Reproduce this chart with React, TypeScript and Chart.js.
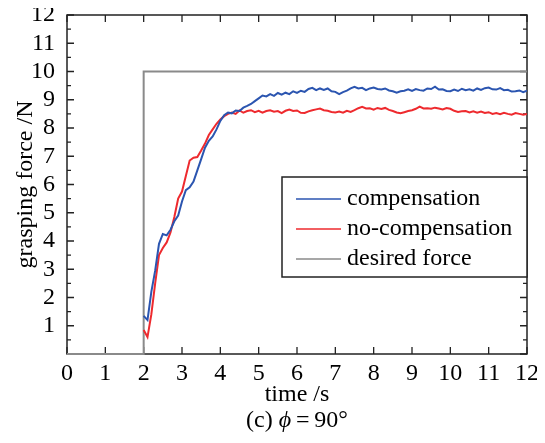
import React, { useEffect, useRef } from "react";
import { Chart, registerables } from "chart.js";

Chart.register(...registerables);

const xTickLabels = ["0","1","2","3","4","5","6","7","8","9","10","11","12"];
const yTickLabels = ["","1","2","3","4","5","6","7","8","9","10","11","12"];

const time = [
  2.0, 2.1, 2.2, 2.3, 2.4, 2.5, 2.6, 2.7, 2.8, 2.9,
  3.0, 3.1, 3.2, 3.3, 3.4, 3.5, 3.6, 3.7, 3.8, 3.9,
  4.0, 4.1, 4.2, 4.3, 4.4, 4.5, 4.6, 4.7, 4.8, 4.9,
  5.0, 5.1, 5.2, 5.3, 5.4, 5.5, 5.6, 5.7, 5.8, 5.9,
  6.0, 6.1, 6.2, 6.3, 6.4, 6.5, 6.6, 6.7, 6.8, 6.9,
  7.0, 7.1, 7.2, 7.3, 7.4, 7.5, 7.6, 7.7, 7.8, 7.9,
  8.0, 8.1, 8.2, 8.3, 8.4, 8.5, 8.6, 8.7, 8.8, 8.9,
  9.0, 9.1, 9.2, 9.3, 9.4, 9.5, 9.6, 9.7, 9.8, 9.9,
  10.0, 10.1, 10.2, 10.3, 10.4, 10.5, 10.6, 10.7, 10.8, 10.9,
  11.0, 11.1, 11.2, 11.3, 11.4, 11.5, 11.6, 11.7, 11.8, 11.9,
  12.0,
];

const compensation = [
  1.35, 1.2, 2.2, 2.95, 3.9, 4.25, 4.2, 4.4, 4.7, 4.9,
  5.4, 5.8, 5.9, 6.1, 6.5, 6.9, 7.3, 7.55, 7.7, 7.95,
  8.25, 8.45, 8.55, 8.52, 8.62, 8.6, 8.72, 8.78, 8.85, 8.95,
  9.05, 9.15, 9.12, 9.2, 9.14, 9.24, 9.18, 9.25, 9.2, 9.3,
  9.24, 9.32, 9.28, 9.38, 9.42, 9.34, 9.4, 9.35, 9.4, 9.3,
  9.28, 9.2, 9.27, 9.32, 9.4, 9.46, 9.4, 9.42, 9.34, 9.4,
  9.43, 9.38, 9.36, 9.4, 9.33, 9.3, 9.25, 9.3, 9.32, 9.37,
  9.31, 9.38, 9.34, 9.32, 9.4, 9.38, 9.46, 9.36, 9.37, 9.31,
  9.3, 9.36, 9.31, 9.39, 9.34, 9.37, 9.32, 9.4, 9.35, 9.41,
  9.43, 9.37, 9.36, 9.41, 9.34, 9.35, 9.29, 9.3, 9.33, 9.27,
  9.32,
];

const noCompensation = [
  0.85, 0.6, 1.4, 2.5, 3.5, 3.75, 3.95, 4.3, 4.85, 5.5,
  5.75, 6.3, 6.85, 6.95, 6.97, 7.2, 7.45, 7.75, 7.95, 8.15,
  8.3, 8.42, 8.5, 8.55, 8.5, 8.62, 8.54, 8.6, 8.63, 8.56,
  8.61, 8.54, 8.6, 8.63, 8.58, 8.6, 8.53, 8.61, 8.65, 8.6,
  8.62, 8.54, 8.53, 8.59, 8.63, 8.66, 8.69, 8.63, 8.61, 8.57,
  8.55, 8.58, 8.54, 8.61, 8.57, 8.63, 8.7, 8.75, 8.69, 8.7,
  8.65, 8.71, 8.67, 8.71, 8.64, 8.6, 8.55, 8.52, 8.56, 8.6,
  8.63, 8.68, 8.76, 8.69, 8.7, 8.68, 8.72, 8.69, 8.66, 8.71,
  8.68, 8.61, 8.57, 8.59, 8.6, 8.55, 8.59, 8.54, 8.58, 8.53,
  8.56, 8.5, 8.53, 8.49, 8.54, 8.5, 8.47, 8.53, 8.5, 8.47,
  8.5,
];

const desiredTime = [0, 2, 2, 12];
const desiredForce = [0, 0, 10, 10];

const seriesNames = ["compensation", "no-compensation", "desired force"];
const seriesColors = ["#2b55b0", "#ee2a2e", "#8a8a8a"];

const FONT = "'Liberation Serif', 'Times New Roman', serif";

const framePlugin = {
  id: "frame",
  beforeDatasetsDraw(chart: any) {
    const { ctx, chartArea: a, scales } = chart;
    const xs = scales.x;
    const ys = scales.y;
    ctx.save();
    ctx.strokeStyle = "#222";
    ctx.lineWidth = 1.5;
    ctx.strokeRect(a.left, a.top, a.right - a.left, a.bottom - a.top);
    ctx.lineWidth = 1.3;
    ctx.beginPath();
    for (let i = 0; i < xTickLabels.length; i++) {
      const px = xs.getPixelForValue(i);
      ctx.moveTo(px, a.bottom);
      ctx.lineTo(px, a.bottom - 7);
      ctx.moveTo(px, a.top);
      ctx.lineTo(px, a.top + 7);
    }
    for (let i = 0; i < yTickLabels.length; i++) {
      const py = ys.getPixelForValue(i);
      ctx.moveTo(a.left, py);
      ctx.lineTo(a.left + 7, py);
      ctx.moveTo(a.right, py);
      ctx.lineTo(a.right - 7, py);
      if (i < yTickLabels.length - 1) {
        const pm = ys.getPixelForValue(i + 0.5);
        ctx.moveTo(a.left, pm);
        ctx.lineTo(a.left + 4, pm);
        ctx.moveTo(a.right, pm);
        ctx.lineTo(a.right - 4, pm);
      }
    }
    ctx.stroke();
    ctx.restore();
  },
  afterDraw(chart: any) {
    const { ctx, chartArea: a } = chart;
    ctx.save();
    // legend
    const lx = a.right - 245;
    const ly = a.top + 162;
    ctx.fillStyle = "#fff";
    ctx.fillRect(lx, ly, 245, 100);
    ctx.strokeStyle = "#222";
    ctx.lineWidth = 1.5;
    ctx.strokeRect(lx, ly, 245, 100);
    ctx.font = `24px ${FONT}`;
    ctx.textBaseline = "middle";
    ctx.textAlign = "left";
    for (let i = 0; i < seriesNames.length; i++) {
      const yy = ly + 22 + i * 30;
      ctx.strokeStyle = seriesColors[i];
      ctx.lineWidth = 1.5;
      ctx.beginPath();
      ctx.moveTo(lx + 14, yy);
      ctx.lineTo(lx + 59, yy);
      ctx.stroke();
      ctx.fillStyle = "#000";
      ctx.fillText(seriesNames[i], lx + 65, yy);
    }
    // caption
    ctx.font = `24px ${FONT}`;
    const p1 = "(c) ";
    const p2 = "\u03d5";
    const p3 = "\u2009=\u200990\u00b0";
    const w1 = ctx.measureText(p1).width;
    const w3 = ctx.measureText(p3).width;
    ctx.font = `italic 24px ${FONT}`;
    const w2 = ctx.measureText(p2).width;
    const total = w1 + w2 + w3;
    let cx = (a.left + a.right) / 2 - total / 2;
    const cy = 413;
    ctx.textBaseline = "middle";
    ctx.fillStyle = "#000";
    ctx.font = `24px ${FONT}`;
    ctx.fillText(p1, cx, cy);
    cx += w1;
    ctx.font = `italic 24px ${FONT}`;
    ctx.fillText(p2, cx, cy);
    cx += w2;
    ctx.font = `24px ${FONT}`;
    ctx.fillText(p3, cx, cy);
    ctx.restore();
  },
};

export default function App() {
  const canvasRef = useRef<HTMLCanvasElement | null>(null);

  useEffect(() => {
    const canvas = canvasRef.current;
    if (!canvas) return;
    const chart = new Chart(canvas, {
      type: "line",
      data: {
        datasets: [
          {
            label: seriesNames[0],
            data: time.map((t, i) => ({ x: t, y: compensation[i] })),
            borderColor: seriesColors[0],
            borderWidth: 2,
            pointRadius: 0,
            tension: 0,
          },
          {
            label: seriesNames[1],
            data: time.map((t, i) => ({ x: t, y: noCompensation[i] })),
            borderColor: seriesColors[1],
            borderWidth: 2,
            pointRadius: 0,
            tension: 0,
          },
          {
            label: seriesNames[2],
            data: desiredTime.map((t, i) => ({ x: t, y: desiredForce[i] })),
            borderColor: seriesColors[2],
            borderWidth: 2,
            pointRadius: 0,
            tension: 0,
            clip: 3,
          },
        ],
      },
      options: {
        responsive: true,
        maintainAspectRatio: false,
        animation: false,
        layout: { padding: { top: 7, right: 10, left: 0, bottom: 0 } },
        plugins: {
          legend: { display: false },
          tooltip: { enabled: false },
        },
        scales: {
          x: {
            type: "linear",
            min: 0,
            max: 12,
            grid: { display: false },
            border: { display: false },
            ticks: {
              stepSize: 1,
              autoSkip: false,
              maxRotation: 0,
              padding: -3,
              color: "#000",
              font: { family: FONT, size: 24 },
              callback: (v: any) => xTickLabels[Math.round(Number(v))] ?? "",
            },
            title: {
              display: true,
              text: "time /s",
              color: "#000",
              font: { family: FONT, size: 24 },
              padding: { top: 0, bottom: 26 },
            },
            afterFit: (s: any) => {
              s.height = 81;
              s.paddingLeft = 0;
              s.paddingRight = 0;
            },
          },
          y: {
            min: 0,
            max: 12,
            grid: { display: false },
            border: { display: false },
            ticks: {
              stepSize: 1,
              autoSkip: false,
              padding: 4,
              color: "#000",
              font: { family: FONT, size: 24 },
              callback: (v: any) => yTickLabels[Math.round(Number(v))] ?? "",
            },
            title: {
              display: true,
              text: "grasping force /N",
              color: "#000",
              font: { family: FONT, size: 24 },
              padding: { top: 3, bottom: 0 },
            },
            afterFit: (s: any) => {
              s.width = 59;
              s.paddingTop = 0;
              s.paddingBottom = 0;
            },
          },
        },
      },
      plugins: [framePlugin],
    });
    return () => chart.destroy();
  }, []);

  return (
    <div style={{ width: 529, height: 427, position: "relative" }}>
      <canvas ref={canvasRef} />
    </div>
  );
}
